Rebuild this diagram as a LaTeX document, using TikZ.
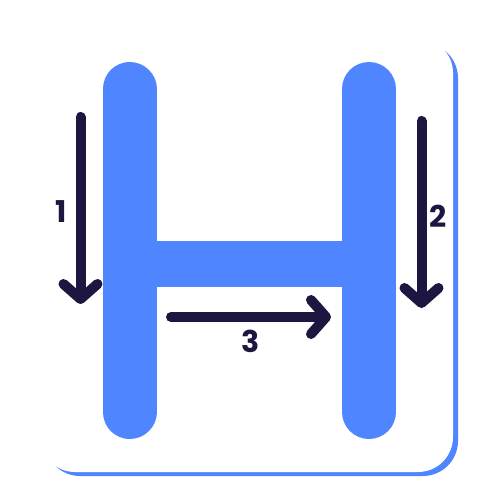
\documentclass[tikz,border=0pt]{standalone}
\usepackage{fontspec}
\usepackage{tikz}
\usetikzlibrary{arrows.meta}
\setmainfont{Poppins}[BoldFont={Poppins Bold}]
\definecolor{letter}{HTML}{4F86FF}
\definecolor{ink}{HTML}{1C1640}

\begin{document}
\begin{tikzpicture}[x=1pt, y=-1pt, >={Straight Barb[round, length=15pt, width=34pt]},
  every node/.style={font=\fontsize{30}{32}\selectfont\bfseries, text=ink}]
  \useasboundingbox (0,0) rectangle (500,500);
  % card with offset shadow
  \fill[letter, rounded corners=35pt] (45,43) rectangle (458,476);
  \fill[white, rounded corners=35pt] (40,38) rectangle (453,472);
  % letter H
  \draw[letter, line width=54pt, line cap=round] (129.5,89) -- (129.5,412);
  \draw[letter, line width=54pt, line cap=round] (369,89) -- (369,412);
  \fill[letter] (156,241) rectangle (342,287);
  % stroke order
  \coordinate (s1) at (80.5,117);
  \coordinate (e1) at (80.5,304);
  \coordinate (s2) at (421.5,121);
  \coordinate (e2) at (421.5,308);
  \coordinate (s3) at (171,317);
  \coordinate (e3) at (331,317);
  \draw[->, draw=ink, line width=10pt, line cap=round] (s1) -- (e1);
  \draw[->, draw=ink, line width=10pt, line cap=round] (s2) -- (e2);
  \draw[->, draw=ink, line width=10pt, line cap=round] (s3) -- (e3);
  \node (n1) at (61,212) {1};
  \node (n2) at (438,216) {2};
  \node (n3) at (251,341) {3};
\end{tikzpicture}
\end{document}
